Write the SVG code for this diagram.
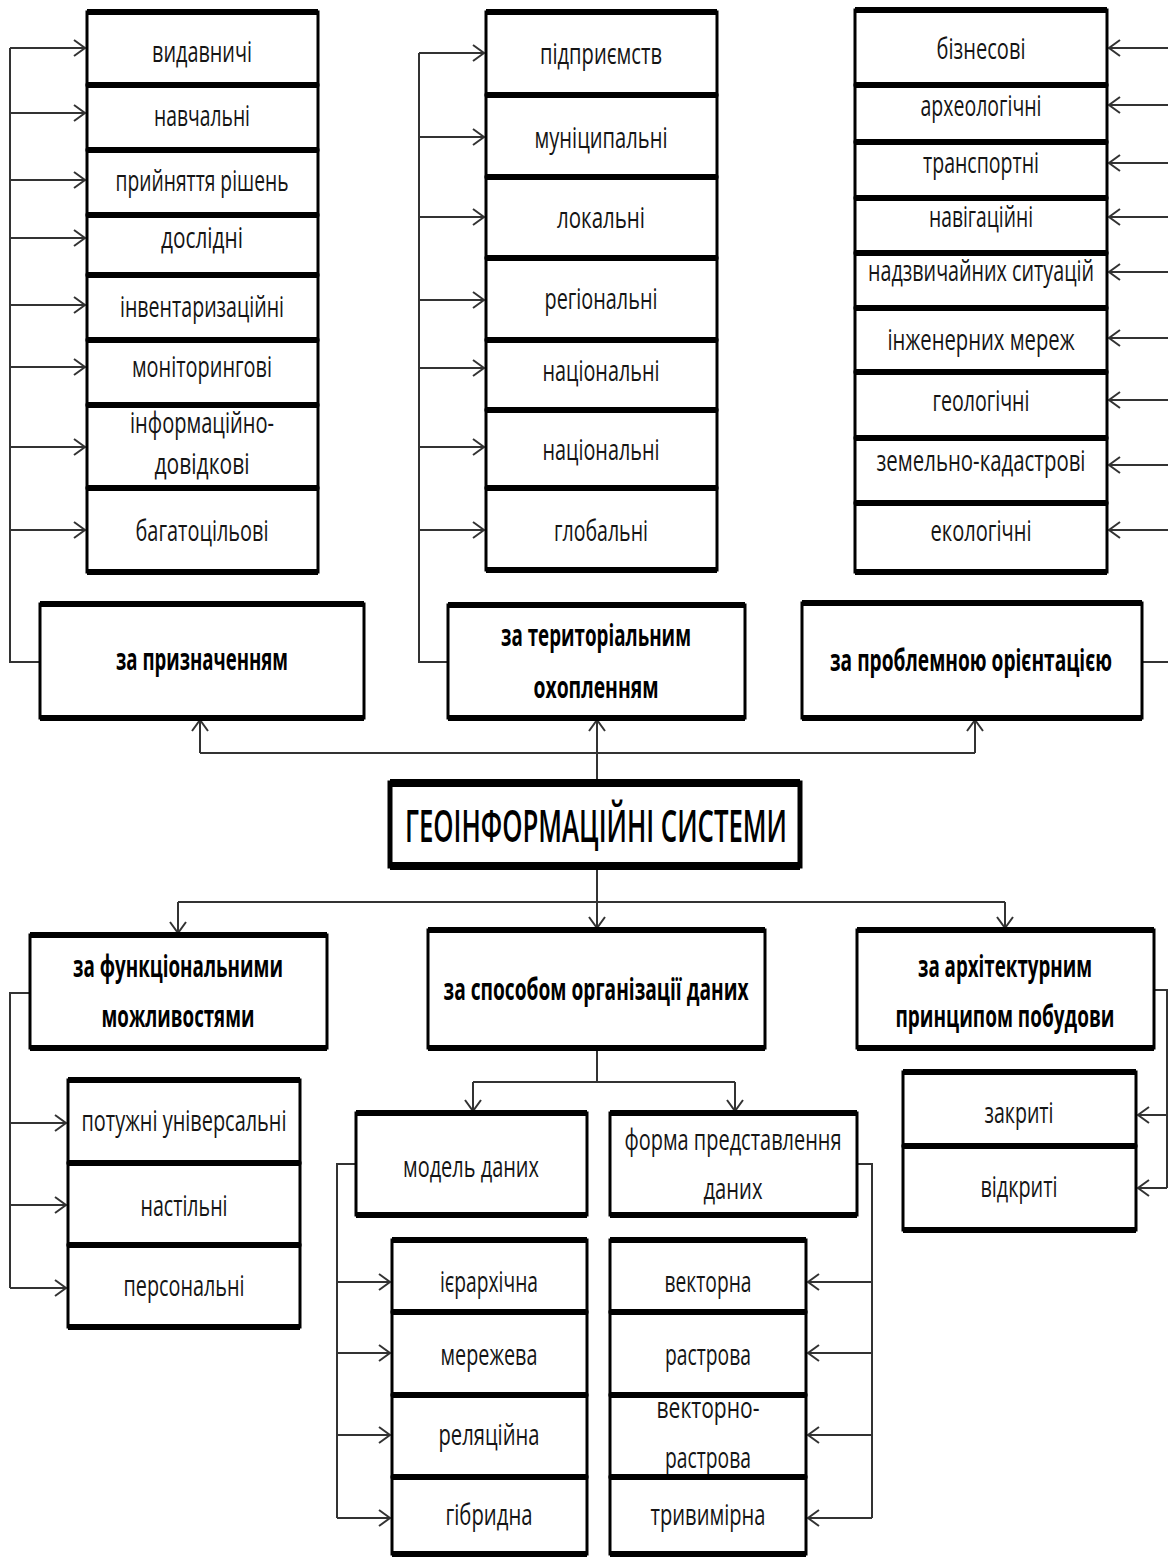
<svg xmlns="http://www.w3.org/2000/svg" width="1168" height="1557" viewBox="0 0 1168 1557">
<style>
.box{fill:#fff;stroke:#000;stroke-width:3}
.edge{fill:none;stroke:#000;stroke-width:6}
.t{font-family:"Open Sans","Liberation Sans",sans-serif;font-size:30px;fill:#151515;text-anchor:middle}
.b{font-weight:bold;font-size:31px;fill:#000}
.c{fill:none;stroke:#333;stroke-width:2}
.a{fill:none;stroke:#333;stroke-width:2;marker-end:url(#arr)}
</style>
<defs>
<marker id="arr" markerWidth="14" markerHeight="18" refX="12" refY="9" orient="auto" markerUnits="userSpaceOnUse">
<path d="M1,1 L12,9 L1,17" fill="none" stroke="#333" stroke-width="2"/>
</marker>
</defs>
<rect width="1168" height="1557" fill="#fff"/>

<g id="connectors">
<path class="c" d="M40 662H10V48"/>
<path class="a" d="M10 48H85"/><path class="a" d="M10 113H85"/><path class="a" d="M10 180H85"/><path class="a" d="M10 238H85"/>
<path class="a" d="M10 305H85"/><path class="a" d="M10 367H85"/><path class="a" d="M10 447H85"/><path class="a" d="M10 530H85"/>
<path class="c" d="M448 662H419V53"/>
<path class="a" d="M419 53H484"/><path class="a" d="M419 137H484"/><path class="a" d="M419 217H484"/><path class="a" d="M419 300H484"/>
<path class="a" d="M419 368H484"/><path class="a" d="M419 447H484"/><path class="a" d="M419 530H484"/>
<path class="c" d="M1142 662H1170V48"/>
<path class="a" d="M1170 48H1109"/><path class="a" d="M1170 105H1109"/><path class="a" d="M1170 163H1109"/><path class="a" d="M1170 217H1109"/>
<path class="a" d="M1170 272H1109"/><path class="a" d="M1170 338H1109"/><path class="a" d="M1170 400H1109"/><path class="a" d="M1170 465H1109"/><path class="a" d="M1170 530H1109"/>
<path class="a" d="M597 783V720"/>
<path class="c" d="M200 753H975"/>
<path class="a" d="M200 753V720"/><path class="a" d="M975 753V720"/>
<path class="a" d="M597 866V928"/>
<path class="c" d="M178 902H1005"/>
<path class="a" d="M178 902V933"/><path class="a" d="M1005 902V928"/>
<path class="c" d="M30 993H10V1288"/>
<path class="a" d="M10 1123H66"/><path class="a" d="M10 1205H66"/><path class="a" d="M10 1288H66"/>
<path class="c" d="M597 1048V1082"/>
<path class="c" d="M473 1082H735"/>
<path class="a" d="M473 1082V1111"/><path class="a" d="M735 1082V1111"/>
<path class="c" d="M356 1164H337V1518"/>
<path class="a" d="M337 1282H390"/><path class="a" d="M337 1353H390"/><path class="a" d="M337 1435H390"/><path class="a" d="M337 1518H390"/>
<path class="c" d="M857 1164H872V1518"/>
<path class="a" d="M872 1282H808"/><path class="a" d="M872 1353H808"/><path class="a" d="M872 1435H808"/><path class="a" d="M872 1518H808"/>
<path class="c" d="M1154 990H1167V1188"/>
<path class="a" d="M1167 1115H1138"/><path class="a" d="M1167 1188H1138"/>
</g>

<!-- Column A -->
<g id="a1"><rect class="box" x="87" y="12" width="231" height="73"/><path class="edge" d="M87 12h231M87 85h231"/><text class="t" x="202" y="62" textLength="100" lengthAdjust="spacingAndGlyphs">видавничі</text></g>
<g id="a2"><rect class="box" x="87" y="85" width="231" height="65"/><path class="edge" d="M87 85h231M87 150h231"/><text class="t" x="202" y="126" textLength="96" lengthAdjust="spacingAndGlyphs">навчальні</text></g>
<g id="a3"><rect class="box" x="87" y="150" width="231" height="65"/><path class="edge" d="M87 150h231M87 215h231"/><text class="t" x="202" y="191" textLength="173" lengthAdjust="spacingAndGlyphs">прийняття рішень</text></g>
<g id="a4"><rect class="box" x="87" y="215" width="231" height="60"/><path class="edge" d="M87 215h231M87 275h231"/><text class="t" x="202" y="248" textLength="82" lengthAdjust="spacingAndGlyphs">дослідні</text></g>
<g id="a5"><rect class="box" x="87" y="275" width="231" height="65"/><path class="edge" d="M87 275h231M87 340h231"/><text class="t" x="202" y="317" textLength="164" lengthAdjust="spacingAndGlyphs">інвентаризаційні</text></g>
<g id="a6"><rect class="box" x="87" y="340" width="231" height="65"/><path class="edge" d="M87 340h231M87 405h231"/><text class="t" x="202" y="377" textLength="140" lengthAdjust="spacingAndGlyphs">моніторингові</text></g>
<g id="a7"><rect class="box" x="87" y="405" width="231" height="83"/><path class="edge" d="M87 405h231M87 488h231"/><text class="t" x="202" y="433" textLength="144" lengthAdjust="spacingAndGlyphs">інформаційно-</text><text class="t" x="202" y="474" textLength="95" lengthAdjust="spacingAndGlyphs">довідкові</text></g>
<g id="a8"><rect class="box" x="87" y="488" width="231" height="84"/><path class="edge" d="M87 488h231M87 572h231"/><text class="t" x="202" y="541" textLength="133" lengthAdjust="spacingAndGlyphs">багатоцільові</text></g>

<!-- Column B -->
<g id="b1"><rect class="box" x="486" y="12" width="231" height="83"/><path class="edge" d="M486 12h231M486 95h231"/><text class="t" x="601" y="64" textLength="122" lengthAdjust="spacingAndGlyphs">підприємств</text></g>
<g id="b2"><rect class="box" x="486" y="95" width="231" height="82"/><path class="edge" d="M486 95h231M486 177h231"/><text class="t" x="601" y="148" textLength="133" lengthAdjust="spacingAndGlyphs">муніципальні</text></g>
<g id="b3"><rect class="box" x="486" y="177" width="231" height="81"/><path class="edge" d="M486 177h231M486 258h231"/><text class="t" x="601" y="228" textLength="88" lengthAdjust="spacingAndGlyphs">локальні</text></g>
<g id="b4"><rect class="box" x="486" y="258" width="231" height="82"/><path class="edge" d="M486 258h231M486 340h231"/><text class="t" x="601" y="309" textLength="113" lengthAdjust="spacingAndGlyphs">регіональні</text></g>
<g id="b5"><rect class="box" x="486" y="340" width="231" height="70"/><path class="edge" d="M486 340h231M486 410h231"/><text class="t" x="601" y="381" textLength="117" lengthAdjust="spacingAndGlyphs">національні</text></g>
<g id="b6"><rect class="box" x="486" y="410" width="231" height="78"/><path class="edge" d="M486 410h231M486 488h231"/><text class="t" x="601" y="460" textLength="117" lengthAdjust="spacingAndGlyphs">національні</text></g>
<g id="b7"><rect class="box" x="486" y="488" width="231" height="82"/><path class="edge" d="M486 488h231M486 570h231"/><text class="t" x="601" y="541" textLength="94" lengthAdjust="spacingAndGlyphs">глобальні</text></g>

<!-- Column C -->
<g id="c1"><rect class="box" x="855" y="10" width="252" height="75"/><path class="edge" d="M855 10h252M855 85h252"/><text class="t" x="981" y="59" textLength="89" lengthAdjust="spacingAndGlyphs">бізнесові</text></g>
<g id="c2"><rect class="box" x="855" y="85" width="252" height="57"/><path class="edge" d="M855 85h252M855 142h252"/><text class="t" x="981" y="116" textLength="121" lengthAdjust="spacingAndGlyphs">археологічні</text></g>
<g id="c3"><rect class="box" x="855" y="142" width="252" height="56"/><path class="edge" d="M855 142h252M855 198h252"/><text class="t" x="981" y="173" textLength="116" lengthAdjust="spacingAndGlyphs">транспортні</text></g>
<g id="c4"><rect class="box" x="855" y="198" width="252" height="55"/><path class="edge" d="M855 198h252M855 253h252"/><text class="t" x="981" y="227" textLength="104" lengthAdjust="spacingAndGlyphs">навігаційні</text></g>
<g id="c5"><rect class="box" x="855" y="253" width="252" height="55"/><path class="edge" d="M855 253h252M855 308h252"/><text class="t" x="981" y="281" textLength="226" lengthAdjust="spacingAndGlyphs">надзвичайних ситуацій</text></g>
<g id="c6"><rect class="box" x="855" y="308" width="252" height="64"/><path class="edge" d="M855 308h252M855 372h252"/><text class="t" x="981" y="350" textLength="187" lengthAdjust="spacingAndGlyphs">інженерних мереж</text></g>
<g id="c7"><rect class="box" x="855" y="372" width="252" height="66"/><path class="edge" d="M855 372h252M855 438h252"/><text class="t" x="981" y="411" textLength="97" lengthAdjust="spacingAndGlyphs">геологічні</text></g>
<g id="c8"><rect class="box" x="855" y="438" width="252" height="65"/><path class="edge" d="M855 438h252M855 503h252"/><text class="t" x="981" y="471" textLength="209" lengthAdjust="spacingAndGlyphs">земельно-кадастрові</text></g>
<g id="c9"><rect class="box" x="855" y="503" width="252" height="69"/><path class="edge" d="M855 503h252M855 572h252"/><text class="t" x="981" y="541" textLength="101" lengthAdjust="spacingAndGlyphs">екологічні</text></g>

<!-- Headers -->
<g id="h-purpose"><rect class="box" x="40" y="604" width="324" height="114"/><path class="edge" d="M40 604h324M40 718h324"/><text class="t b" x="202" y="670" textLength="172" lengthAdjust="spacingAndGlyphs">за призначенням</text></g>
<g id="h-territory"><rect class="box" x="448" y="605" width="297" height="113"/><path class="edge" d="M448 605h297M448 718h297"/><text class="t b" x="596" y="646" textLength="190" lengthAdjust="spacingAndGlyphs">за територіальним</text><text class="t b" x="596" y="698" textLength="125" lengthAdjust="spacingAndGlyphs">охопленням</text></g>
<g id="h-problem"><rect class="box" x="802" y="603" width="340" height="115"/><path class="edge" d="M802 603h340M802 718h340"/><text class="t b" x="971" y="671" textLength="282" lengthAdjust="spacingAndGlyphs">за проблемною орієнтацією</text></g>

<g id="central"><rect class="box" x="390" y="783" width="410" height="83" style="stroke-width:5"/><path class="edge" d="M390 783h410M390 866h410" style="stroke-width:8"/><text class="t" x="596" y="842" textLength="382" lengthAdjust="spacingAndGlyphs" style="font-size:46px;font-weight:600;fill:#000">ГЕОІНФОРМАЦІЙНІ СИСТЕМИ</text></g>

<g id="h-functional"><rect class="box" x="30" y="935" width="297" height="113"/><path class="edge" d="M30 935h297M30 1048h297"/><text class="t b" x="178" y="977" textLength="210" lengthAdjust="spacingAndGlyphs">за функціональними</text><text class="t b" x="178" y="1027" textLength="153" lengthAdjust="spacingAndGlyphs">можливостями</text></g>
<g id="h-organization"><rect class="box" x="428" y="930" width="337" height="118"/><path class="edge" d="M428 930h337M428 1048h337"/><text class="t b" x="596" y="1000" textLength="305" lengthAdjust="spacingAndGlyphs">за способом організації даних</text></g>
<g id="h-architecture"><rect class="box" x="857" y="930" width="297" height="118"/><path class="edge" d="M857 930h297M857 1048h297"/><text class="t b" x="1005" y="977" textLength="174" lengthAdjust="spacingAndGlyphs">за архітектурним</text><text class="t b" x="1005" y="1027" textLength="219" lengthAdjust="spacingAndGlyphs">принципом побудови</text></g>

<!-- Functional items -->
<g id="f1"><rect class="box" x="68" y="1080" width="232" height="83"/><path class="edge" d="M68 1080h232M68 1163h232"/><text class="t" x="184" y="1131" textLength="205" lengthAdjust="spacingAndGlyphs">потужні універсальні</text></g>
<g id="f2"><rect class="box" x="68" y="1163" width="232" height="82"/><path class="edge" d="M68 1163h232M68 1245h232"/><text class="t" x="184" y="1216" textLength="87" lengthAdjust="spacingAndGlyphs">настільні</text></g>
<g id="f3"><rect class="box" x="68" y="1245" width="232" height="82"/><path class="edge" d="M68 1245h232M68 1327h232"/><text class="t" x="184" y="1296" textLength="121" lengthAdjust="spacingAndGlyphs">персональні</text></g>

<!-- Organization sub -->
<g id="model"><rect class="box" x="356" y="1113" width="231" height="102"/><path class="edge" d="M356 1113h231M356 1215h231"/><text class="t" x="471" y="1177" textLength="136" lengthAdjust="spacingAndGlyphs">модель даних</text></g>
<g id="form"><rect class="box" x="610" y="1113" width="247" height="102"/><path class="edge" d="M610 1113h247M610 1215h247"/><text class="t" x="733" y="1150" textLength="217" lengthAdjust="spacingAndGlyphs">форма представлення</text><text class="t" x="733" y="1199" textLength="59" lengthAdjust="spacingAndGlyphs">даних</text></g>

<!-- Architecture items -->
<g id="r1"><rect class="box" x="903" y="1072" width="233" height="74"/><path class="edge" d="M903 1072h233M903 1146h233"/><text class="t" x="1019" y="1123" textLength="69" lengthAdjust="spacingAndGlyphs">закриті</text></g>
<g id="r2"><rect class="box" x="903" y="1146" width="233" height="84"/><path class="edge" d="M903 1146h233M903 1230h233"/><text class="t" x="1019" y="1197" textLength="77" lengthAdjust="spacingAndGlyphs">відкриті</text></g>

<!-- Model items -->
<g id="m1"><rect class="box" x="392" y="1240" width="195" height="72"/><path class="edge" d="M392 1240h195M392 1312h195"/><text class="t" x="489" y="1292" textLength="98" lengthAdjust="spacingAndGlyphs">ієрархічна</text></g>
<g id="m2"><rect class="box" x="392" y="1312" width="195" height="83"/><path class="edge" d="M392 1312h195M392 1395h195"/><text class="t" x="489" y="1365" textLength="97" lengthAdjust="spacingAndGlyphs">мережева</text></g>
<g id="m3"><rect class="box" x="392" y="1395" width="195" height="82"/><path class="edge" d="M392 1395h195M392 1477h195"/><text class="t" x="489" y="1445" textLength="101" lengthAdjust="spacingAndGlyphs">реляційна</text></g>
<g id="m4"><rect class="box" x="392" y="1477" width="195" height="77"/><path class="edge" d="M392 1477h195M392 1554h195"/><text class="t" x="489" y="1525" textLength="87" lengthAdjust="spacingAndGlyphs">гібридна</text></g>

<!-- Form items -->
<g id="p1"><rect class="box" x="610" y="1240" width="196" height="72"/><path class="edge" d="M610 1240h196M610 1312h196"/><text class="t" x="708" y="1292" textLength="87" lengthAdjust="spacingAndGlyphs">векторна</text></g>
<g id="p2"><rect class="box" x="610" y="1312" width="196" height="83"/><path class="edge" d="M610 1312h196M610 1395h196"/><text class="t" x="708" y="1365" textLength="86" lengthAdjust="spacingAndGlyphs">растрова</text></g>
<g id="p3"><rect class="box" x="610" y="1395" width="196" height="82"/><path class="edge" d="M610 1395h196M610 1477h196"/><text class="t" x="708" y="1418" textLength="103" lengthAdjust="spacingAndGlyphs">векторно-</text><text class="t" x="708" y="1468" textLength="86" lengthAdjust="spacingAndGlyphs">растрова</text></g>
<g id="p4"><rect class="box" x="610" y="1477" width="196" height="77"/><path class="edge" d="M610 1477h196M610 1554h196"/><text class="t" x="708" y="1525" textLength="115" lengthAdjust="spacingAndGlyphs">тривимірна</text></g>
</svg>
